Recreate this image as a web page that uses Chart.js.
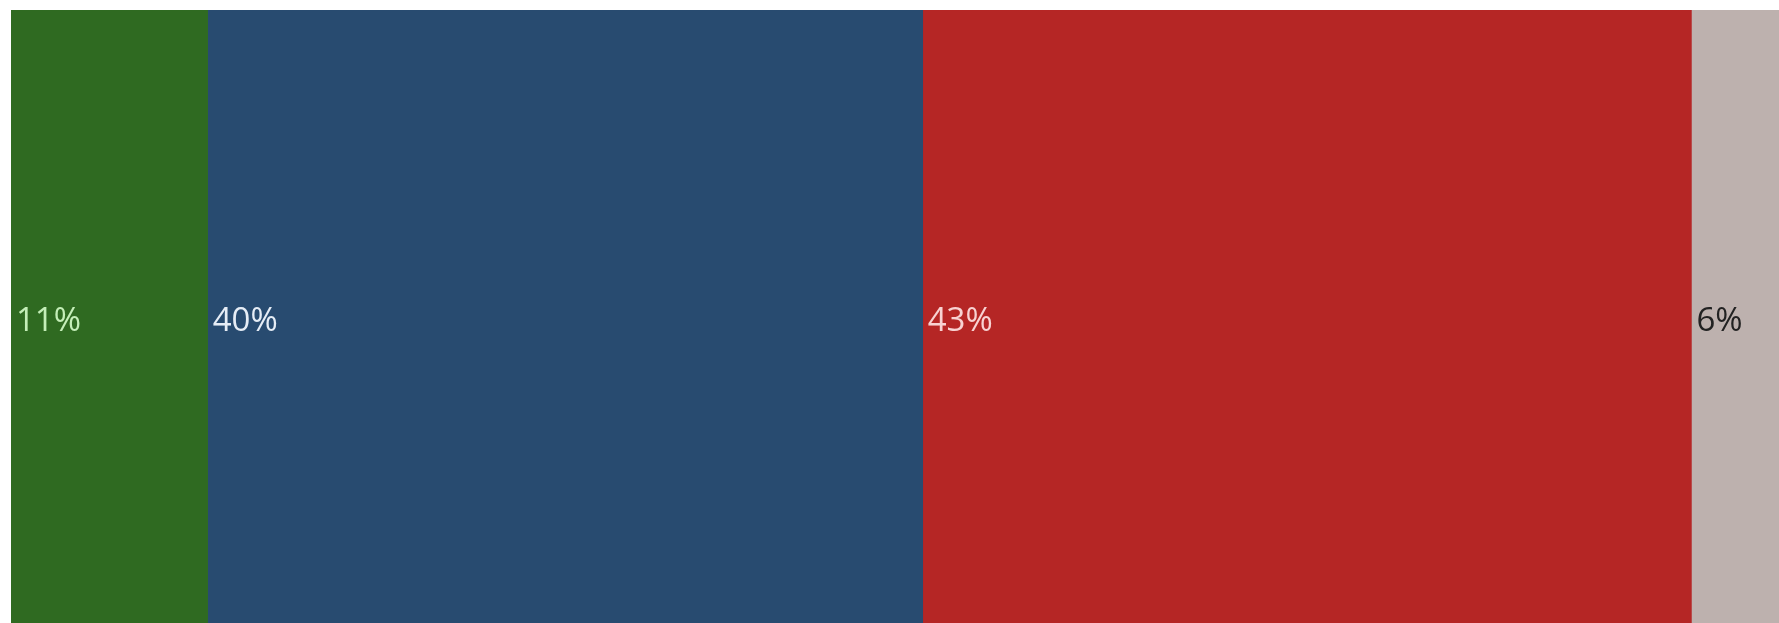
<!DOCTYPE html>
<html>
<head>
<meta charset="utf-8">
<script src="https://cdn.jsdelivr.net/npm/chart.js@4/dist/chart.umd.min.js"></script>
<style>
html,body{margin:0;padding:0;background:#fff;}
#wrap{width:1779px;height:623px;position:relative;}
</style>
</head>
<body>
<div id="wrap"><canvas id="c" width="1779" height="623"></canvas></div>
<script>
const categories = [""];
const seriesNames = ["Green", "Blue", "Red", "Other"];
const seriesValues = [11, 40, 43, 6];
const seriesLabels = ["11%", "40%", "43%", "6%"];
const seriesColors = ["#2f6a21", "#284b70", "#b52625", "#bdb1ae"];
const labelColors = ["#c4eeb8", "#e6edf6", "#f8d2d2", "#222222"];

const labelPlugin = {
  id: "segLabels",
  afterDatasetsDraw(chart) {
    const ctx = chart.ctx;
    ctx.save();
    ctx.font = "33px 'Open Sans'";
    ctx.textBaseline = "middle";
    ctx.textAlign = "left";
    chart.data.datasets.forEach((ds, i) => {
      const meta = chart.getDatasetMeta(i);
      meta.data.forEach(el => {
        const p = el.getProps(["x", "y", "base"], true);
        const start = Math.min(p.x, p.base);
        ctx.fillStyle = labelColors[i];
        ctx.fillText(seriesLabels[i], start + 5, p.y + 5);
      });
    });
    ctx.restore();
  }
};

new Chart(document.getElementById("c"), {
  type: "bar",
  data: {
    labels: categories,
    datasets: seriesNames.map((n, i) => ({
      label: n,
      data: [seriesValues[i]],
      backgroundColor: seriesColors[i],
      borderWidth: 0,
      barPercentage: 1,
      categoryPercentage: 1
    }))
  },
  options: {
    indexAxis: "y",
    responsive: false,
    animation: false,
    layout: { padding: { top: 10, left: 11, right: 0, bottom: 0 } },
    plugins: { legend: { display: false }, tooltip: { enabled: false } },
    scales: {
      x: { stacked: true, display: false, min: 0, max: 98.9 },
      y: { stacked: true, display: false }
    }
  },
  plugins: [labelPlugin]
});
</script>
</body>
</html>
